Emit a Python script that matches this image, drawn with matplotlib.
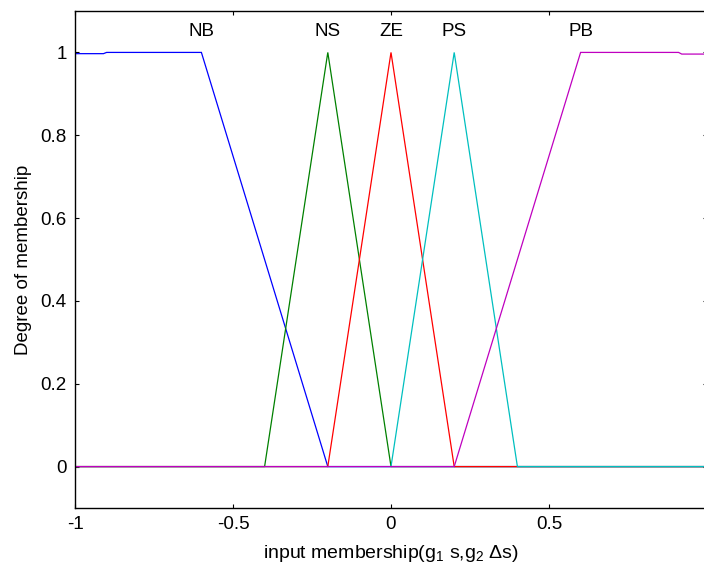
import matplotlib
matplotlib.use("Agg")
import matplotlib.pyplot as plt

plt.rcParams['font.family'] = ['Liberation Sans', 'DejaVu Sans']
plt.rcParams['mathtext.fontset'] = 'custom'
plt.rcParams['mathtext.rm'] = 'Liberation Sans'
plt.rcParams['mathtext.it'] = 'Liberation Sans'

mf_names = ["NB", "NS", "ZE", "PS", "PB"]
mf_colors = ["#0000ff", "#008000", "#ff0000", "#00bfbf", "#bf00bf"]
nb_x = [-1.0, -0.91, -0.90, -0.6, -0.2, 1.0]
nb_y = [0.997, 0.997, 1.0, 1.0, 0.0, 0.0]
ns_x = [-1.0, -0.4, -0.2, 0.0, 1.0]
ns_y = [0.0, 0.0, 1.0, 0.0, 0.0]
ze_x = [-1.0, -0.2, 0.0, 0.2, 1.0]
ze_y = [0.0, 0.0, 1.0, 0.0, 0.0]
ps_x = [-1.0, 0.0, 0.2, 0.4, 1.0]
ps_y = [0.0, 0.0, 1.0, 0.0, 0.0]
pb_x = [-1.0, 0.2, 0.6, 0.91, 0.92, 1.0]
pb_y = [0.0, 0.0, 1.0, 1.0, 0.996, 0.996]
label_x = [-0.6, -0.2, 0.0, 0.2, 0.6]
x_ticks = [-1, -0.5, 0, 0.5]
x_ticklabels = ["-1", "-0.5", "0", "0.5"]
y_ticks = [0, 0.2, 0.4, 0.6, 0.8, 1]
y_ticklabels = ["0", "0.2", "0.4", "0.6", "0.8", "1"]

W, H = 704, 569
fig = plt.figure(figsize=(W / 100, H / 100), dpi=100)
ax = fig.add_axes([75 / W, (H - 508) / H, 632 / W, 497 / H])

series = [(nb_x, nb_y), (ns_x, ns_y), (ze_x, ze_y), (ps_x, ps_y), (pb_x, pb_y)]
for (xs, ys), c in zip(series, mf_colors):
    ax.plot(xs, ys, color=c, lw=0.9, solid_joinstyle='miter')

for name, lx in zip(mf_names, label_x):
    ax.text(lx, 1.05, name, ha='center', va='center', fontsize=13.5)

ax.set_xlim(-1, 1)
ax.set_ylim(-0.1, 1.1)
ax.set_xticks(x_ticks)
ax.set_xticklabels(x_ticklabels)
ax.set_yticks(y_ticks)
ax.set_yticklabels(y_ticklabels)
ax.tick_params(direction='in', length=3, width=0.8, top=True, right=True,
               labelsize=13.5, pad=6)
for s in ax.spines.values():
    s.set_linewidth(1.0)

ax.set_xlabel(r"input membership(g$_1$ s,g$_2$ $\Delta$s)", fontsize=14, labelpad=7)
ax.set_ylabel("Degree of membership", fontsize=13.5, labelpad=6)

fig.savefig("out.png", dpi=100)
